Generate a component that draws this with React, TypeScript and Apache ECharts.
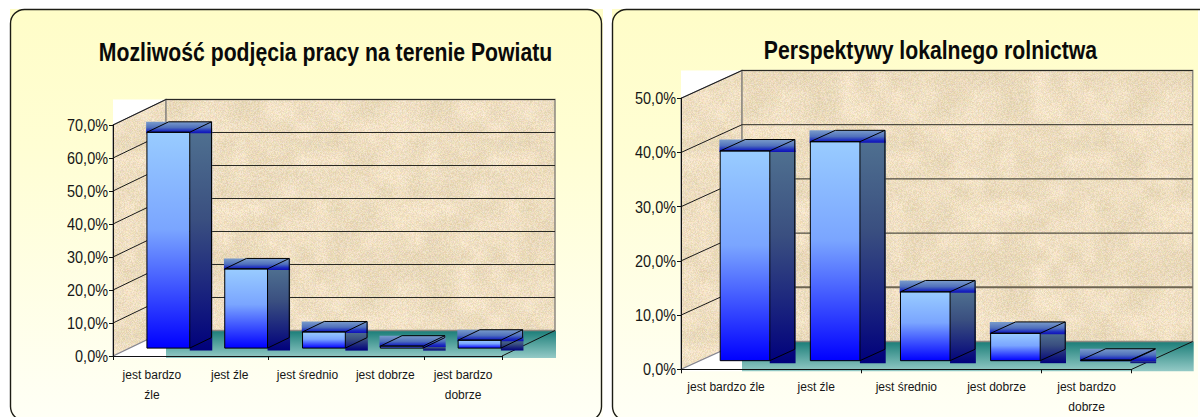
import React, { useEffect, useRef } from "react";
import * as echarts from "echarts";

const categoriesA = ["jest bardzo\nźle", "jest źle", "jest średnio", "jest dobrze", "jest bardzo\ndobrze"];
const categoriesB = ["jest bardzo źle", "jest źle", "jest średnio", "jest dobrze", "jest bardzo\ndobrze"];
const valuesA = [65.4, 24, 4.9, 0.6, 2.4];
const valuesB = [38.7, 40.4, 12.7, 5.05, 0.1];
const ticksA = [0, 10, 20, 30, 40, 50, 60, 70];
const ticksB = [0, 10, 20, 30, 40, 50];
const titleA = "Mozliwość podjęcia pracy na terenie Powiatu";
const titleB = "Perspektywy lokalnego rolnictwa";

const FONT = '"Liberation Sans", Arial, sans-serif';

function hash(x: number, y: number) {
  let n = Math.imul(x, 374761393) + Math.imul(y, 668265263);
  n = Math.imul(n ^ (n >>> 13), 1274126177);
  return ((n ^ (n >>> 16)) >>> 0) / 4294967295;
}

function makeTexture() {
  const size = 192;
  const cell = 16;
  const cells = size / cell;
  const c = document.createElement("canvas");
  c.width = size;
  c.height = size;
  const ctx = c.getContext("2d")!;
  const img = ctx.createImageData(size, size);
  const smooth = (t: number) => t * t * (3 - 2 * t);
  for (let y = 0; y < size; y++) {
    for (let x = 0; x < size; x++) {
      const cx = Math.floor(x / cell);
      const cy = Math.floor(y / cell);
      const fx = smooth((x % cell) / cell);
      const fy = smooth((y % cell) / cell);
      const a = hash(cx, cy);
      const b = hash((cx + 1) % cells, cy);
      const d = hash(cx, (cy + 1) % cells);
      const e = hash((cx + 1) % cells, (cy + 1) % cells);
      const low = (a * (1 - fx) + b * fx) * (1 - fy) + (d * (1 - fx) + e * fx) * fy;
      const lum = (hash(x + 500, y) - 0.5) * 18 + (low - 0.5) * 13;
      const i = (y * size + x) * 4;
      img.data[i] = 238 + lum + (hash(x, y + 900) - 0.5) * 12;
      img.data[i + 1] = 222 + lum + (hash(x + 900, y) - 0.5) * 12;
      img.data[i + 2] = 193 + lum * 1.3 + (hash(x + 300, y + 300) - 0.5) * 22;
      img.data[i + 3] = 255;
    }
  }
  ctx.putImageData(img, 0, 0);
  return { image: c.toDataURL(), repeat: "repeat", imageWidth: size, imageHeight: size };
}

const vgrad = (stops: [number, string][]) => ({
  type: "linear",
  x: 0,
  y: 0,
  x2: 0,
  y2: 1,
  colorStops: stops.map(([offset, color]) => ({ offset, color })),
});

const floorFill = vgrad([[0, "#1a7d78"], [1, "#94cac6"]]);
const capFill = vgrad([[0, "#7a9ccb"], [0.5, "#5070bc"], [0.8, "#1c2cc0"], [1, "#1010b8"]]);
const frontFill = vgrad([[0, "#99ccff"], [0.45, "#7aa5ff"], [1, "#0000ff"]]);
const sideFill = vgrad([[0, "#4f7090"], [0.4, "#3a4f80"], [1, "#00007c"]]);
const LABEL = "#161616";

function wallsRenderer(depth: { dx: number; dy: number }, maxVal: number, texture: any) {
  return (_p: any, api: any) => {
    const band = api.size([1, 0])[0];
    const [c0, base] = api.coord([0, 0]);
    const [, top] = api.coord([0, maxVal]);
    const left = c0 - band / 2;
    const right = left + band * 5;
    const { dx, dy } = depth;
    return {
      type: "group",
      silent: true,
      children: [
        { type: "rect", shape: { x: left, y: top - dy, width: dx, height: base - top + dy + 2 }, style: { fill: "#ffffff" } },
        { type: "rect", shape: { x: left + dx, y: base - dy, width: band * 5 + 1, height: dy + 2 }, style: { fill: floorFill } },
        { type: "polygon", shape: { points: [[left, top], [left + dx, top - dy], [left + dx, base - dy], [left, base]] }, style: { fill: texture, stroke: "#858590", lineWidth: 1.2 } },
        { type: "rect", shape: { x: left + dx, y: top - dy, width: band * 5, height: base - top }, style: { fill: texture, stroke: "#8c8880", lineWidth: 1.5 } },
        { type: "line", shape: { x1: right, y1: base, x2: right + dx, y2: base - dy }, style: { stroke: "#111111", lineWidth: 1 } },
      ],
    };
  };
}

function gridRenderer(depth: { dx: number; dy: number }, heavy: number | null) {
  return (_p: any, api: any) => {
    const v = api.value(1);
    if (v === 0) return { type: "group", children: [] };
    const band = api.size([1, 0])[0];
    const [c0, y] = api.coord([0, v]);
    const left = c0 - band / 2;
    const { dx, dy } = depth;
    const isHeavy = v === heavy;
    return {
      type: "group",
      silent: true,
      children: [
        { type: "line", shape: { x1: left, y1: y, x2: left + dx, y2: y - dy }, style: { stroke: "#1a1a1a", lineWidth: 1 } },
        {
          type: "line",
          shape: { x1: left + dx, y1: y - dy, x2: left + dx + band * 5, y2: y - dy },
          style: { stroke: isHeavy ? "#6e6552" : "#2a2a24", lineWidth: isHeavy ? 2 : 1 },
        },
      ],
    };
  };
}

function barRenderer(depth: { dx: number; dy: number }) {
  return (_p: any, api: any) => {
    const band = api.size([1, 0])[0];
    const [cx, y0] = api.coord([api.value(0), 0]);
    const [, y1] = api.coord([api.value(0), api.value(1)]);
    const shiftX = depth.dx * 0.31;
    const shiftY = depth.dy * 0.31;
    const bx = depth.dx * 0.41;
    const by = depth.dy * 0.41;
    const w = band * 0.55;
    const x = cx + shiftX - w / 2;
    const base = y0 - shiftY;
    const top = y1 - shiftY;
    const line = { stroke: "#000000", lineWidth: 1, fill: "none" };
    return {
      type: "group",
      silent: true,
      children: [
        { type: "rect", shape: { x: x + w, y: top - 0.5, width: bx + 0.8, height: base - top + 3 }, style: { fill: sideFill } },
        { type: "rect", shape: { x: x - 0.8, y: top - by, width: w + bx + 1.6, height: by + 1 }, style: { fill: capFill } },
        { type: "rect", shape: { x, y: top, width: w, height: base - top }, style: { fill: frontFill, stroke: "#000000", lineWidth: 1 } },
        { type: "polygon", shape: { points: [[x, top], [x + bx, top - by], [x + w + bx, top - by], [x + w, top]] }, style: line },
        { type: "polyline", shape: { points: [[x + w + bx, top - by], [x + w + bx, base - by], [x + w, base]] }, style: line },
      ],
    };
  };
}

function tickLabelRenderer() {
  return (_p: any, api: any) => {
    const band = api.size([1, 0])[0];
    const v = api.value(1);
    const [c0, y] = api.coord([0, v]);
    return {
      type: "text",
      silent: true,
      x: c0 - band / 2 - 5,
      y,
      scaleX: 0.85,
      style: { text: pct(v), font: `17px ${FONT}`, fill: LABEL, align: "right", verticalAlign: "middle" },
    };
  };
}

function categoryLabelRenderer(labels: string[], gap: number) {
  return (_p: any, api: any) => {
    const i = api.value(0);
    const [cx, y] = api.coord([i, 0]);
    return {
      type: "text",
      silent: true,
      x: cx,
      y: y + gap,
      scaleX: 0.89,
      style: { text: labels[i], font: `13.5px ${FONT}`, lineHeight: 20, fill: LABEL, align: "center", verticalAlign: "top" },
    };
  };
}

const panel = (x: number, fillWidth: number, borderWidth: number) => [
  { type: "rect", z: -10, silent: true, shape: { x, y: 9, width: fillWidth, height: 411 }, style: { fill: vgrad([[0, "#fffdc8"], [0.35, "#fffed4"], [1, "#fffff6"]]) } },
  { type: "rect", z: -9, silent: true, shape: { x: x + 0.5, y: 9.5, width: borderWidth, height: 411, r: 14 }, style: { fill: "none", stroke: "#1c1c14", lineWidth: 1.4 } },
];

const titleText = (text: string, x: number, y: number, size: number, scaleX: number) => ({
  type: "text",
  z: 10,
  x,
  y,
  scaleX,
  style: { text, font: `bold ${size}px ${FONT}`, fill: "#0a0a0a", align: "center", verticalAlign: "middle" },
});

const pct = (v: number) => v.toFixed(1).replace(".", ",") + "%";

export default function App() {
  const ref = useRef<HTMLDivElement>(null);
  useEffect(() => {
    document.body.style.margin = "0";
    const chart = echarts.init(ref.current!, undefined, { renderer: "svg" });
    const texture = makeTexture();
    const depthA = { dx: 53, dy: 25.5 };
    const depthB = { dx: 61, dy: 27.8 };
    const xAxis = (gridIndex: number, data: string[]) => ({
      type: "category",
      gridIndex,
      data,
      z: 5,
      axisLine: { lineStyle: { color: "#111111", width: 1 } },
      axisTick: { show: true, length: 4, alignWithLabel: false, lineStyle: { color: "#111111" } },
      axisLabel: { show: false },
      splitLine: { show: false },
    });
    const yAxis = (gridIndex: number, max: number) => ({
      type: "value",
      gridIndex,
      min: 0,
      max,
      interval: 10,
      z: 5,
      axisLine: { show: true, lineStyle: { color: "#111111", width: 1 } },
      axisTick: { show: true, length: 4, lineStyle: { color: "#111111" } },
      axisLabel: { show: false },
      splitLine: { show: false },
    });
    const custom = (i: number, z: number, renderItem: any, data: any[]) => ({
      type: "custom",
      coordinateSystem: "cartesian2d",
      xAxisIndex: i,
      yAxisIndex: i,
      z,
      silent: true,
      renderItem,
      data,
      clip: false,
    });
    chart.setOption({
      animation: false,
      tooltip: { show: false },
      graphic: {
        elements: [
          ...panel(10, 593, 591),
          ...panel(612, 586, 640),
          titleText(titleA, 325.5, 52, 26.5, 0.8),
          titleText(titleB, 930.5, 50, 26.5, 0.8),
        ],
      },
      grid: [
        { left: 113, top: 125, width: 389, height: 231 },
        { left: 681, top: 98.3, width: 450.7, height: 271 },
      ],
      xAxis: [xAxis(0, categoriesA), xAxis(1, categoriesB)],
      yAxis: [yAxis(0, 70), yAxis(1, 50)],
      series: [
        custom(0, 1, wallsRenderer(depthA, 70, texture), [[0, 0]]),
        custom(0, 2, gridRenderer(depthA, null), ticksA.map((t) => [0, t])),
        custom(0, 3, barRenderer(depthA), valuesA.map((v, i) => [i, v])),
        custom(0, 4, tickLabelRenderer(), ticksA.map((t) => [0, t])),
        custom(0, 4, categoryLabelRenderer(categoriesA, 8), categoriesA.map((_, i) => [i, 0])),
        custom(1, 1, wallsRenderer(depthB, 50, texture), [[0, 0]]),
        custom(1, 2, gridRenderer(depthB, 10), ticksB.map((t) => [0, t])),
        custom(1, 3, barRenderer(depthB), valuesB.map((v, i) => [i, v])),
        custom(1, 4, tickLabelRenderer(), ticksB.map((t) => [0, t])),
        custom(1, 4, categoryLabelRenderer(categoriesB, 6.5), categoriesB.map((_, i) => [i, 0])),
      ],
    });
    return () => chart.dispose();
  }, []);
  return <div ref={ref} style={{ width: 1200, height: 417 }} />;
}
